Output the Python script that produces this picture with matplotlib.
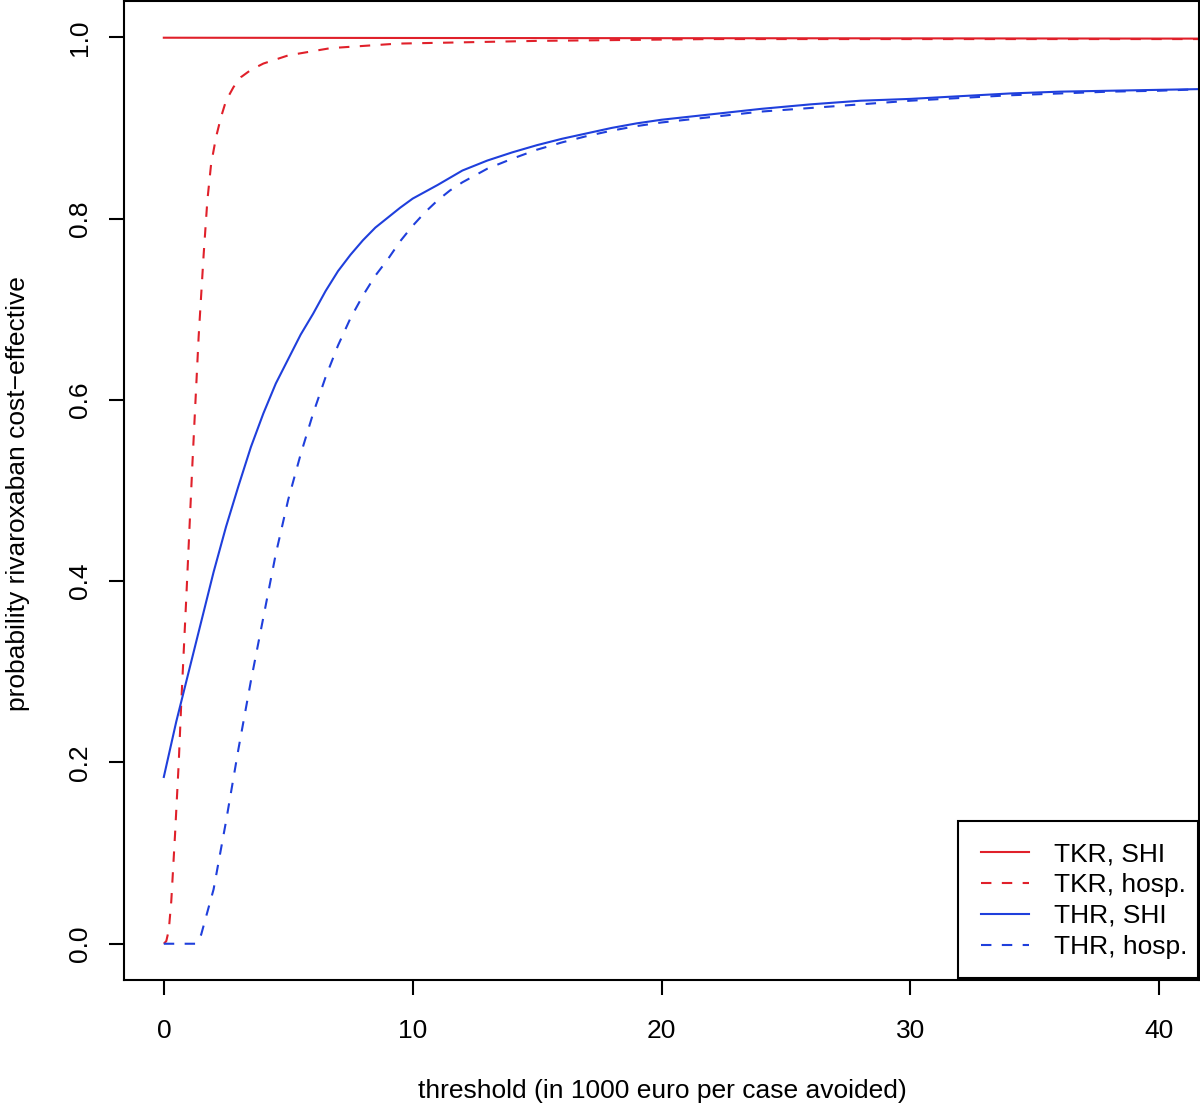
import matplotlib
matplotlib.use("Agg")
import matplotlib.pyplot as plt
from matplotlib.patches import Rectangle

plt.rcParams['font.family'] = ['Liberation Sans', 'DejaVu Sans']

# TKR, SHI (red solid)
tkr_shi_x = [0, 10, 20, 30, 42]
tkr_shi_y = [0.9995, 0.9992, 0.999, 0.9988, 0.9985]

# TKR, hosp. (red dashed)
tkr_hosp_x = [0, 0.1, 0.2, 0.3, 0.45, 0.6, 0.7, 0.9, 1.15, 1.4, 1.6, 1.75, 1.9, 2.1,
              2.3, 2.5, 2.8, 3.1, 3.5, 4.0, 5.0, 6.7, 9.4, 15, 22, 42]
tkr_hosp_y = [0, 0.003, 0.015, 0.047, 0.12, 0.2, 0.265, 0.38, 0.53, 0.67, 0.76, 0.82,
              0.86, 0.89, 0.912, 0.93, 0.945, 0.956, 0.964, 0.971, 0.98, 0.988, 0.993,
              0.996, 0.998, 0.998]

# THR, SHI (blue solid)
thr_shi_x = [0, 0.5, 1, 1.5, 2, 2.5, 3, 3.5, 4, 4.5, 5, 5.5, 6, 6.5, 7, 7.5, 8, 8.5,
             9, 9.5, 10, 11, 12, 13, 14, 15, 16, 17, 18, 19, 20, 22, 24, 26, 28, 30,
             32, 34, 36, 38, 40, 42]
thr_shi_y = [0.184, 0.245, 0.30, 0.355, 0.41, 0.46, 0.505, 0.548, 0.585, 0.618, 0.645,
             0.672, 0.695, 0.72, 0.742, 0.76, 0.776, 0.79, 0.801, 0.812, 0.822, 0.837,
             0.853, 0.864, 0.873, 0.881, 0.888, 0.894, 0.900, 0.905, 0.909, 0.915,
             0.921, 0.926, 0.930, 0.932, 0.935, 0.938, 0.940, 0.941, 0.942, 0.943]

# THR, hosp. (blue dashed)
thr_hosp_x = [0, 1.3, 1.5, 2.0, 2.5, 3.0, 3.5, 4.0, 4.5, 5.0, 5.5, 6.0, 6.5, 7, 7.5,
              8, 8.5, 9, 9.5, 10, 10.5, 11, 11.5, 12, 13, 14, 15, 16, 17, 18, 19, 20,
              22, 24, 26, 28, 30, 32, 34, 36, 38, 40, 42]
thr_hosp_y = [0, 0, 0.01, 0.06, 0.135, 0.215, 0.29, 0.36, 0.43, 0.49, 0.54, 0.585,
              0.625, 0.66, 0.69, 0.715, 0.737, 0.755, 0.775, 0.792, 0.807, 0.82, 0.831,
              0.84, 0.855, 0.866, 0.876, 0.884, 0.891, 0.897, 0.902, 0.906, 0.912,
              0.918, 0.922, 0.926, 0.930, 0.933, 0.936, 0.938, 0.940, 0.941, 0.943]

labels = ['TKR, SHI', 'TKR, hosp.', 'THR, SHI', 'THR, hosp.']

red = '#e0202a'
blue = '#1f3fdc'
dash = (0, (5, 5))
fs = 19

fig = plt.figure(figsize=(12, 11.07), dpi=100)
ax = fig.add_axes([124 / 1200, 127 / 1107, 1075 / 1200, 979 / 1107])

ax.plot(tkr_shi_x, tkr_shi_y, color=red, lw=1.5, label=labels[0])
ax.plot(tkr_hosp_x, tkr_hosp_y, color=red, lw=1.5, ls=dash, label=labels[1])
ax.plot(thr_shi_x, thr_shi_y, color=blue, lw=1.5, label=labels[2])
ax.plot(thr_hosp_x, thr_hosp_y, color=blue, lw=1.5, ls=dash, label=labels[3])

ax.set_xlim(-1.6, 41.6)
ax.set_ylim(-0.04, 1.04)
ax.set_xticks([0, 10, 20, 30, 40])
ax.set_yticks([0.0, 0.2, 0.4, 0.6, 0.8, 1.0])
ax.set_yticklabels(['0.0', '0.2', '0.4', '0.6', '0.8', '1.0'], rotation=90, va='center')
ax.tick_params(length=11, width=1.5, labelsize=fs, color='black')
ax.tick_params(axis='x', pad=17)
ax.tick_params(axis='y', pad=12)
for sp in ax.spines.values():
    sp.set_linewidth(1.5)

fig.text(662 / 1200, 1 - 1091 / 1107, 'threshold (in 1000 euro per case avoided)',
         ha='center', va='center', fontsize=fs)
fig.text(18 / 1200, 1 - 494 / 1107, 'probability rivaroxaban cost\u2212effective',
         ha='center', va='center', rotation=90, fontsize=fs)

# legend box drawn separately, R style
box = Rectangle((0.7758, 0.002), 0.999 - 0.7758, 0.1624 - 0.002, transform=ax.transAxes,
                facecolor='white', edgecolor='black', lw=1.5, zorder=5)
ax.add_patch(box)
leg = ax.legend(loc='center', bbox_to_anchor=(0.8935, 0.0812), fontsize=fs,
                frameon=False, labelspacing=0.26, handlelength=1.82,
                handletextpad=0.95, borderpad=0)
leg.set_zorder(6)

fig.savefig('out.png', dpi=100)
